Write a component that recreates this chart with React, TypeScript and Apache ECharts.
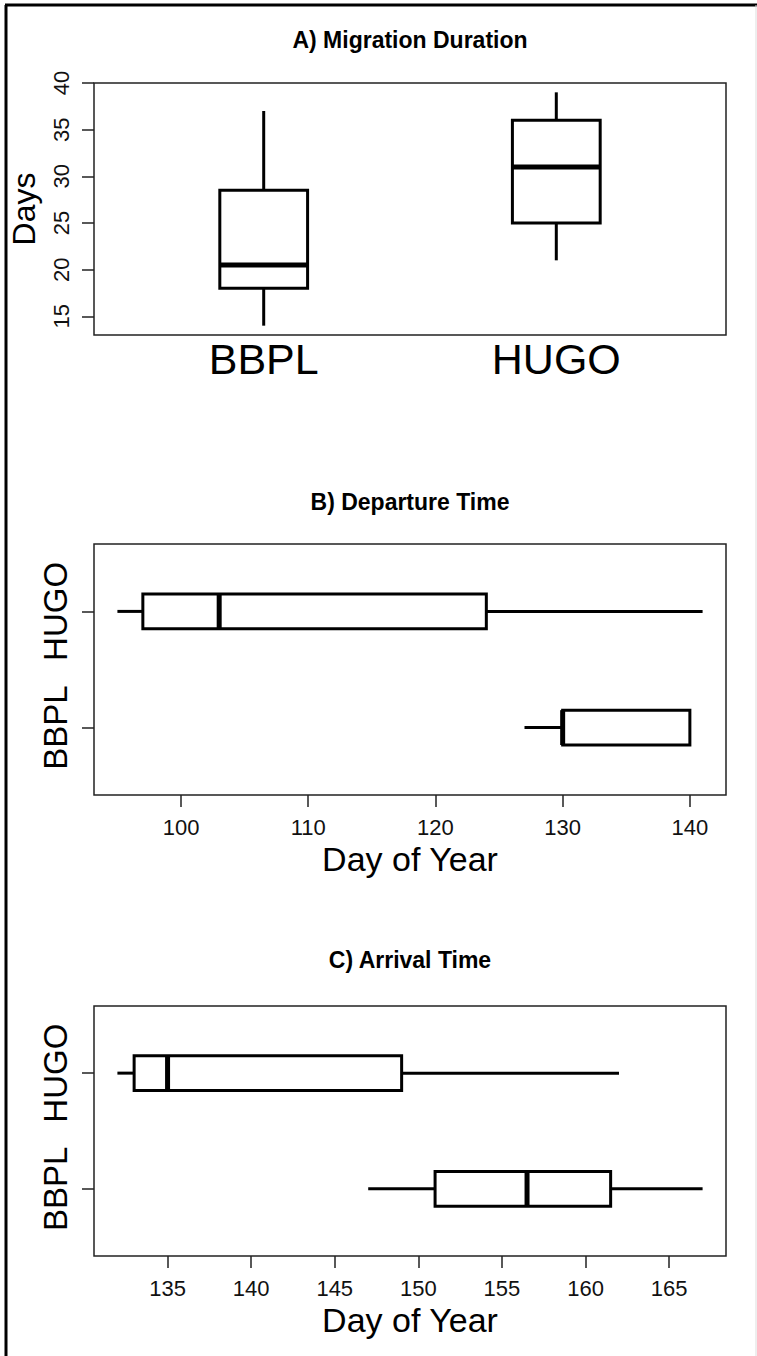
import React, { useEffect, useRef } from "react";
import * as echarts from "echarts";

// ---------- data ----------
const groups = ["BBPL", "HUGO"];
const groupPositions = [1, 2];
// each row: [min, Q1, median, Q3, max]
const durationStats = [
  [14, 18, 20.5, 28.5, 37],
  [21, 25, 31, 36, 39],
];
const departureStats = [
  [127, 130, 130, 140, 140],
  [95, 97, 103, 124, 141],
];
const arrivalStats = [
  [147, 151, 156.5, 161.5, 167],
  [132, 133, 135, 149, 162],
];
const durationTicks = [15, 20, 25, 30, 35, 40];
const departureTicks = [100, 110, 120, 130, 140];
const arrivalTicks = [135, 140, 145, 150, 155, 160, 165];
const titles = ["A) Migration Duration", "B) Departure Time", "C) Arrival Time"];

// R-style 4% padded ranges
const pad = (lo: number, hi: number) => [lo - 0.04 * (hi - lo), hi + 0.04 * (hi - lo)];

const SANS = "'Liberation Sans', Arial, sans-serif";

function makeRender(horizontal: boolean) {
  return (params: any, api: any) => {
    const pos = api.value(0);
    const lo = api.value(1);
    const q1 = api.value(2);
    const med = api.value(3);
    const q3 = api.value(4);
    const hi = api.value(5);
    const hw = 0.15;
    const pt = (c: number, v: number) => (horizontal ? api.coord([v, c]) : api.coord([c, v]));
    const a = pt(pos - hw, q1);
    const b = pt(pos + hw, q3);
    const x = Math.min(a[0], b[0]);
    const y = Math.min(a[1], b[1]);
    const w = Math.abs(a[0] - b[0]);
    const h = Math.abs(a[1] - b[1]);
    const line = (p1: number[], p2: number[], width: number) => ({
      type: "line",
      shape: { x1: p1[0], y1: p1[1], x2: p2[0], y2: p2[1] },
      style: { stroke: "#000", lineWidth: width, fill: null },
    });
    return {
      type: "group",
      children: [
        line(pt(pos, lo), pt(pos, q1), 3),
        line(pt(pos, q3), pt(pos, hi), 3),
        {
          type: "rect",
          shape: { x, y, width: w, height: h },
          style: { fill: "#fff", stroke: "#000", lineWidth: 3 },
        },
        line(pt(pos - hw, med), pt(pos + hw, med), 5),
      ],
    };
  };
}

const toData = (stats: number[][]) => groupPositions.map((p, i) => [p, ...stats[i]]);
const catLabel = (v: number) => groups[Math.round(v) - 1] ?? "";

export default function App() {
  const ref = useRef<HTMLDivElement>(null);

  useEffect(() => {
    if (!ref.current) return;
    const chart = echarts.init(ref.current, null, { renderer: "svg" });
    const durRange = pad(14, 39);
    const depRange = pad(95, 141);
    const arrRange = pad(132, 167);
    const catRange = [0.42, 2.58];

    const tickStyle = { show: true, inside: false, length: 12, lineStyle: { color: "#222", width: 1.5 } };
    const hiddenLine = { show: false };
    const tickFont = { fontSize: 22, fontFamily: SANS, color: "#111" };
    const catFont = { fontSize: 33, fontFamily: SANS, color: "#000" };
    const nameFont = { fontSize: 34, fontFamily: SANS, color: "#000" };
    const gridBase = { left: 94, right: 31, show: true, borderColor: "#222", borderWidth: 1.5, containLabel: false, outerBoundsMode: "none" };

    const option: any = {
      animation: false,
      backgroundColor: "#fff",
      grid: [
        { ...gridBase, top: 83, bottom: 1356 - 335 },
        { ...gridBase, top: 544, bottom: 1356 - 795 },
        { ...gridBase, top: 1006, bottom: 1356 - 1256 },
      ],
      xAxis: [
        {
          gridIndex: 0,
          type: "value",
          min: catRange[0],
          max: catRange[1],
          axisLine: hiddenLine,
          axisTick: { show: false },
          splitLine: { show: false },
          axisLabel: {
            customValues: groupPositions,
            formatter: catLabel,
            fontSize: 43,
            fontFamily: SANS,
            color: "#000",
            margin: 2,
          },
        },
        {
          gridIndex: 1,
          type: "value",
          min: depRange[0],
          max: depRange[1],
          axisLine: hiddenLine,
          axisTick: { ...tickStyle, customValues: departureTicks },
          splitLine: { show: false },
          axisLabel: { customValues: departureTicks, ...tickFont, margin: 21 },
          name: "Day of Year",
          nameLocation: "middle",
          nameGap: 47,
          nameTextStyle: nameFont,
        },
        {
          gridIndex: 2,
          type: "value",
          min: arrRange[0],
          max: arrRange[1],
          axisLine: hiddenLine,
          axisTick: { ...tickStyle, customValues: arrivalTicks },
          splitLine: { show: false },
          axisLabel: { customValues: arrivalTicks, ...tickFont, margin: 21 },
          name: "Day of Year",
          nameLocation: "middle",
          nameGap: 47,
          nameTextStyle: nameFont,
        },
      ],
      yAxis: [
        {
          gridIndex: 0,
          type: "value",
          min: durRange[0],
          max: durRange[1],
          axisLine: hiddenLine,
          axisTick: { ...tickStyle, customValues: durationTicks },
          splitLine: { show: false },
          axisLabel: { customValues: durationTicks, rotate: 90, ...tickFont, margin: 22 },
          name: "Days",
          nameLocation: "middle",
          nameRotate: 90,
          nameGap: 54,
          nameTextStyle: { fontSize: 32, fontFamily: SANS, color: "#000" },
        },
        {
          gridIndex: 1,
          type: "value",
          min: catRange[0],
          max: catRange[1],
          axisLine: hiddenLine,
          axisTick: { ...tickStyle, customValues: groupPositions },
          splitLine: { show: false },
          axisLabel: { customValues: groupPositions, formatter: catLabel, rotate: 90, ...catFont, margin: 22 },
        },
        {
          gridIndex: 2,
          type: "value",
          min: catRange[0],
          max: catRange[1],
          axisLine: hiddenLine,
          axisTick: { ...tickStyle, customValues: groupPositions },
          splitLine: { show: false },
          axisLabel: { customValues: groupPositions, formatter: catLabel, rotate: 90, ...catFont, margin: 22 },
        },
      ],
      series: [
        {
          type: "custom",
          name: "Migration Duration",
          xAxisIndex: 0,
          yAxisIndex: 0,
          renderItem: makeRender(false),
          encode: { x: 0, y: [1, 2, 3, 4, 5] },
          data: toData(durationStats),
        },
        {
          type: "custom",
          name: "Departure Time",
          xAxisIndex: 1,
          yAxisIndex: 1,
          renderItem: makeRender(true),
          encode: { x: [1, 2, 3, 4, 5], y: 0 },
          data: toData(departureStats),
        },
        {
          type: "custom",
          name: "Arrival Time",
          xAxisIndex: 2,
          yAxisIndex: 2,
          renderItem: makeRender(true),
          encode: { x: [1, 2, 3, 4, 5], y: 0 },
          data: toData(arrivalStats),
        },
      ],
      graphic: [
        { type: "line", shape: { x1: 5, y1: 5, x2: 757, y2: 5 }, style: { stroke: "#000", lineWidth: 3 } },
        { type: "line", shape: { x1: 6, y1: 5, x2: 6, y2: 1356 }, style: { stroke: "#000", lineWidth: 3 } },
        { type: "line", shape: { x1: 756, y1: 5, x2: 756, y2: 1356 }, style: { stroke: "#ddd", lineWidth: 1 } },
        ...[40, 502, 960].map((y, i) => ({
          type: "text",
          x: 410,
          y,
          style: {
            text: titles[i],
            fontSize: 23,
            fontWeight: "bold",
            fontFamily: SANS,
            fill: "#000",
            align: "center",
            verticalAlign: "middle",
          },
        })),
      ],
    };
    chart.setOption(option);
    return () => chart.dispose();
  }, []);

  return <div ref={ref} style={{ position: "absolute", left: 0, top: 0, width: 757, height: 1356 }} />;
}
